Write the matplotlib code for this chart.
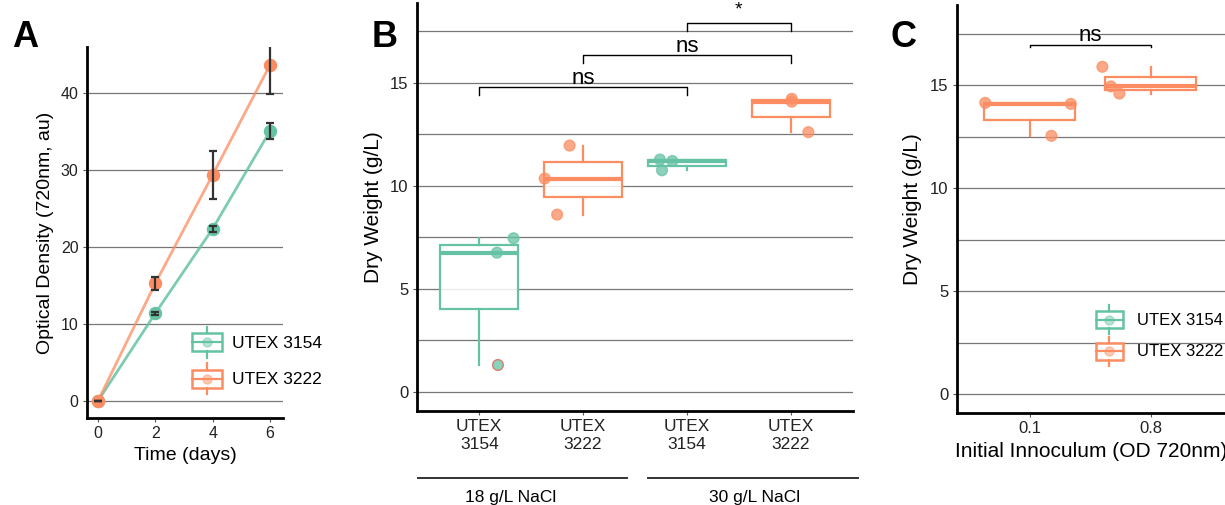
import numpy as np
import matplotlib
matplotlib.use('Agg')
import matplotlib.pyplot as plt
from matplotlib.legend_handler import HandlerBase
from matplotlib.patches import Rectangle
from matplotlib.lines import Line2D
from matplotlib.ticker import MultipleLocator

plt.rcParams['font.family'] = ['Liberation Sans', 'DejaVu Sans']

GREEN = '#66c2a5'
ORANGE = '#fc8d62'

# panel A - growth curve
days = [0, 2, 4, 6]
od_3154 = [0, 11.4, 22.4, 35.1]
od_3154_err = [0, 0.2, 0.4, 1.0]
od_3222 = [0, 15.3, 29.4, 43.7]
od_3222_err = [0, 0.85, 3.1, 3.8]

# panel B - dry weight by salinity
b_labels = ['UTEX\n3154', 'UTEX\n3222', 'UTEX\n3154', 'UTEX\n3222']
b_colors = [GREEN, ORANGE, GREEN, ORANGE]
dw_b = [[1.3, 6.75, 7.45], [8.6, 10.35, 11.95], [10.75, 11.2, 11.27], [12.6, 14.08, 14.22]]
jit_b = [[0.18, 0.17, 0.33], [-0.25, -0.37, -0.13], [-0.24, -0.14, -0.26], [0.17, 0.01, 0.01]]
salt_labels = ['18 g/L NaCl', '30 g/L NaCl']
salt_span = [(-0.59, 1.42), (1.63, 3.65)]
salt_text_x = [0.3, 2.65]
sig_b_pairs = [(0, 2), (1, 3), (2, 3)]
sig_b_y = [14.78, 16.34, 17.9]
sig_b_text = ['ns', 'ns', '*']

# panel C - dry weight by inoculum
c_labels = ['0.1', '0.8']
dw_c = [[12.55, 14.1, 14.15], [14.6, 14.95, 15.9]]
jit_c = [[0.18, 0.34, -0.365], [-0.26, -0.33, -0.4]]
sig_c_pairs = [(0, 1)]
sig_c_y = [16.96]
sig_c_text = ['ns']

strain_names = ['UTEX 3154', 'UTEX 3222']


class BoxGlyph(HandlerBase):
    def create_artists(self, legend, orig_handle, xdescent, ydescent,
                       width, height, fontsize, trans):
        c = orig_handle.get_color()
        x0, y0 = -xdescent, -ydescent
        bh = height * 0.58
        by = y0 + (height - bh) / 2
        xm = x0 + width / 2
        box = Rectangle((x0, by), width, bh, facecolor='white', edgecolor=c,
                        lw=1.8, transform=trans)
        wl = Line2D([xm, xm], [y0, by], color=c, lw=1.6, transform=trans)
        wu = Line2D([xm, xm], [by + bh, y0 + height], color=c, lw=1.6, transform=trans)
        med = Line2D([x0, x0 + width], [y0 + height / 2] * 2, color=c, lw=1.6, transform=trans)
        dot = Line2D([xm], [y0 + height / 2], marker='o', ms=6.5, color=c, alpha=0.45,
                     ls='none', transform=trans)
        return [box, wl, wu, med, dot]


def style_axes(ax, fs):
    for s in ['top', 'right']:
        ax.spines[s].set_visible(False)
    for s in ['left', 'bottom']:
        ax.spines[s].set_linewidth(2)
        ax.spines[s].set_color('black')
    ax.tick_params(which='major', length=3, width=0.8, color='#555555',
                   labelsize=fs, labelcolor='#222222', pad=3)
    ax.tick_params(which='minor', length=0)
    ax.set_axisbelow(True)


def draw_boxes(ax, data, jitter, colors, width, outline=None):
    pos = np.arange(len(data))
    bp = ax.boxplot(data, positions=pos, widths=width, patch_artist=True,
                    showfliers=False, showcaps=False, whis=(0, 100),
                    manage_ticks=False)
    for i, c in enumerate(colors):
        bp['boxes'][i].set(facecolor=(1, 1, 1, 0.85), edgecolor=c, linewidth=1.6, zorder=2)
        bp['medians'][i].set(color=c, linewidth=3, zorder=3)
        for w in bp['whiskers'][2 * i:2 * i + 2]:
            w.set(color=c, linewidth=1.6, zorder=2)
    for i, c in enumerate(colors):
        ecs = [c] * len(data[i])
        if outline and outline[0] == i:
            ecs[outline[1]] = '#e0604a'
        ax.scatter(pos[i] + np.array(jitter[i]), data[i], s=60, facecolors=c,
                   alpha=0.75, edgecolors=ecs, linewidths=1, zorder=4)


def draw_sig(ax, pairs, ys, texts, drop, fs):
    for (a, b), y, t in zip(pairs, ys, texts):
        ax.plot([a, a, b, b], [y - drop, y, y, y - drop], color='black',
                lw=1, clip_on=False, zorder=5)
        if t == '*':
            ax.text((a + b) / 2, y + 0.4, t, ha='center', va='baseline',
                    fontsize=fs - 2, clip_on=False)
        else:
            ax.text((a + b) / 2, y + 0.17, t, ha='center', va='baseline',
                    fontsize=fs, clip_on=False)


fig = plt.figure(figsize=(12.25, 5.05), dpi=100)
W, H = 1225, 505


def add_axes(l, r, t, b):
    return fig.add_axes([l / W, (H - b) / H, (r - l) / W, (b - t) / H])


# ---- A
axA = add_axes(87, 283, 47, 418)
style_axes(axA, 11.5)
axA.plot(days, od_3154, color=GREEN, lw=2, alpha=0.85, zorder=2)
axA.plot(days, od_3222, color=ORANGE, lw=2, alpha=0.75, zorder=2)
axA.scatter(days, od_3154, s=75, color=GREEN, zorder=3)
axA.scatter(days, od_3222, s=75, color=ORANGE, zorder=3)
axA.errorbar(days, od_3154, yerr=od_3154_err, fmt='none', ecolor='#333333',
             elinewidth=1.6, capsize=3, capthick=1.6, zorder=4)
axA.errorbar(days, od_3222, yerr=od_3222_err, fmt='none', ecolor='#333333',
             elinewidth=1.6, capsize=3, capthick=1.6, zorder=4)
axA.set_xlim(-0.38, 6.45)
axA.set_ylim(-2.2, 46)
axA.set_xticks(days)
axA.yaxis.set_major_locator(MultipleLocator(10))
axA.grid(axis='y', which='major', color='#777777', lw=0.9)
axA.set_xlabel('Time (days)', fontsize=14)
axA.set_ylabel('Optical Density (720nm, au)', fontsize=14)
axA.yaxis.set_label_coords(-0.168, 0.5)
axA.xaxis.set_label_coords(0.5, -0.078)
proxies = [Line2D([], [], color=GREEN), Line2D([], [], color=ORANGE)]
axA.legend(proxies, strain_names, handler_map={Line2D: BoxGlyph()},
           loc='center left', bbox_to_anchor=(0.534, 0.155), frameon=False,
           borderpad=0, borderaxespad=0, handlelength=1.75, handleheight=2.4,
           handletextpad=0.55, labelspacing=0.3, fontsize=12.5)

# ---- B
axB = add_axes(417, 853, 3, 410.7)
style_axes(axB, 12)
draw_boxes(axB, dw_b, jit_b, b_colors, 0.75, outline=(0, 0))
axB.set_xlim(-0.6, 3.6)
axB.set_ylim(-0.92, 18.87)
axB.set_xticks(range(len(b_labels)))
axB.set_xticklabels(b_labels, linespacing=1.25, fontsize=12.5)
axB.set_yticks([0, 5, 10, 15])
axB.yaxis.set_minor_locator(MultipleLocator(2.5))
axB.grid(axis='y', which='both', color='#777777', lw=0.9)
axB.set_ylabel('Dry Weight (g/L)', fontsize=15)
axB.yaxis.set_label_coords(-0.077, 0.5)
draw_sig(axB, sig_b_pairs, sig_b_y, sig_b_text, 0.4, 16)
xt = axB.get_xaxis_transform()
for (x0, x1), xc, lab in zip(salt_span, salt_text_x, salt_labels):
    axB.plot([x0, x1], [-0.164, -0.164], color='#333333', lw=1.4,
             transform=xt, clip_on=False)
    axB.text(xc, -0.212, lab, transform=xt, ha='center', va='center', fontsize=12.5)

# ---- C
axC = add_axes(956.7, 1225, 5, 412.5)
style_axes(axC, 12)
draw_boxes(axC, dw_c, jit_c, [ORANGE, ORANGE], 0.75)
axC.set_xlim(-0.6, 1.61)
axC.set_ylim(-0.88, 18.9)
axC.set_xticks(range(len(c_labels)))
axC.set_xticklabels(c_labels)
axC.set_yticks([0, 5, 10, 15])
axC.yaxis.set_minor_locator(MultipleLocator(2.5))
axC.grid(axis='y', which='both', color='#777777', lw=0.9)
axC.set_ylabel('Dry Weight (g/L)', fontsize=15)
axC.set_xlabel('Initial Innoculum (OD 720nm)', fontsize=15)
axC.yaxis.set_label_coords(-0.130, 0.5)
axC.xaxis.set_label_coords(0.5, -0.072)
draw_sig(axC, sig_c_pairs, sig_c_y, sig_c_text, 0.12, 16)
axC.legend(proxies, strain_names, handler_map={Line2D: BoxGlyph()},
           loc='center left', bbox_to_anchor=(0.519, 0.189), frameon=False,
           borderpad=0, borderaxespad=0, handlelength=1.6, handleheight=2.3,
           handletextpad=0.85, labelspacing=0.16, fontsize=12)

# panel letters
for x, lab in [(12, 'A'), (372, 'B'), (890, 'C')]:
    fig.text(x / W, (H - 46.7) / H, lab, fontsize=26, fontweight='bold',
             ha='left', va='baseline')

fig.savefig('out.png', dpi=100)
